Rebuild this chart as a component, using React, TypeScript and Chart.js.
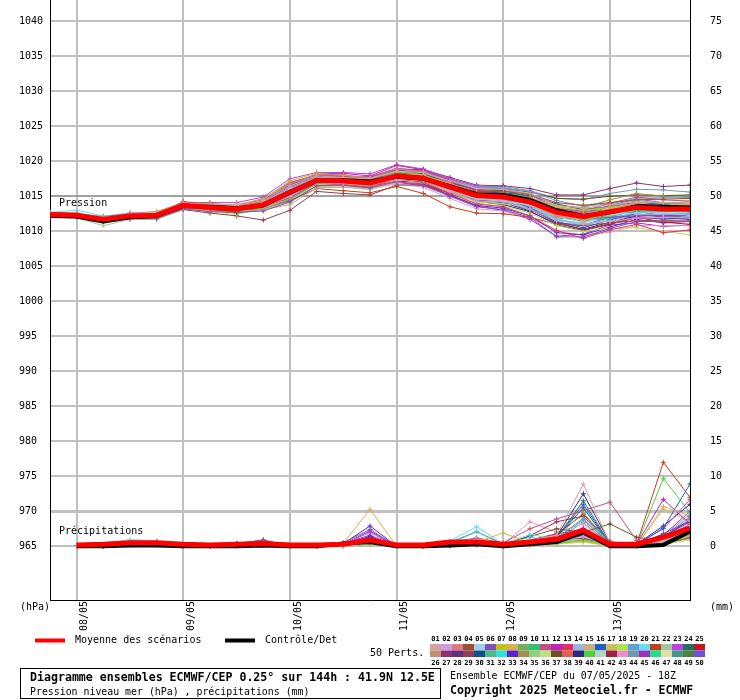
import React, { useEffect, useRef } from "react";
import { Chart, registerables } from "chart.js";

Chart.register(...registerables);

const FONT = '"DejaVu Sans Mono", "Liberation Mono", monospace';

// 6-hourly steps, 07/05 18Z -> 13/05 18Z
const steps = [
  "07/05 18Z", "08/05 00Z", "08/05 06Z", "08/05 12Z", "08/05 18Z",
  "09/05 00Z", "09/05 06Z", "09/05 12Z", "09/05 18Z",
  "10/05 00Z", "10/05 06Z", "10/05 12Z", "10/05 18Z",
  "11/05 00Z", "11/05 06Z", "11/05 12Z", "11/05 18Z",
  "12/05 00Z", "12/05 06Z", "12/05 12Z", "12/05 18Z",
  "13/05 00Z", "13/05 06Z", "13/05 12Z", "13/05 18Z",
];
const dayTickSteps = [1, 5, 9, 13, 17, 21];
const dayLabels = ["08/05", "09/05", "10/05", "11/05", "12/05", "13/05"];
const pressureTicks = [965, 970, 975, 980, 985, 990, 995, 1000, 1005, 1010, 1015, 1020, 1025, 1030, 1035, 1040];
const precipTicks = [0, 5, 10, 15, 20, 25, 30, 35, 40, 45, 50, 55, 60, 65, 70, 75];

const memberNames = [
  "01", "02", "03", "04", "05", "06", "07", "08", "09", "10", "11", "12", "13", "14", "15", "16", "17", "18", "19", "20", "21", "22", "23", "24", "25",
  "26", "27", "28", "29", "30", "31", "32", "33", "34", "35", "36", "37", "38", "39", "40", "41", "42", "43", "44", "45", "46", "47", "48", "49", "50",
];
const memberColors = [
  "#d4a0a8", "#c8a0e0", "#e07880", "#a05030", "#a0d0f0", "#8050b0", "#c0c020", "#d8b050", "#70b060", "#30c070",
  "#c05080", "#c020c0", "#e03060", "#a0b0e0", "#c8b080", "#2060c0", "#c8c060", "#b0e050", "#60a0d8", "#60e0f0",
  "#c04020", "#a0c8a0", "#c040e0", "#207060", "#c01820",
  "#c09070", "#903070", "#603080", "#904050", "#105090", "#50b890", "#30e0e0", "#6020d0", "#a09050", "#90d080",
  "#c0e080", "#705020", "#e06050", "#302880", "#50d040", "#b0d8c8", "#a02040", "#e890c8", "#7098b0", "#a030c0",
  "#20e090", "#e0e0a0", "#409890", "#508040", "#7050e0",
];

const pressureMean = [1012.4, 1012.3, 1011.7, 1012.2, 1012.3, 1013.7, 1013.4, 1013.2, 1013.8, 1015.6, 1017.3, 1017.2, 1016.9, 1017.9, 1017.6, 1016.3, 1015.1, 1014.9, 1014.2, 1012.7, 1012.1, 1012.8, 1013.4, 1013.2, 1013.2];
const pressureControl = [1012.2, 1012.1, 1011.4, 1012.0, 1012.2, 1013.6, 1013.5, 1013.3, 1013.7, 1015.5, 1017.2, 1017.3, 1017.1, 1017.8, 1017.5, 1016.4, 1015.3, 1015.2, 1014.5, 1013.0, 1012.2, 1012.7, 1013.6, 1013.5, 1013.4];
const precipMean = [null, 0.2, 0.3, 0.5, 0.5, 0.3, 0.2, 0.3, 0.4, 0.2, 0.2, 0.3, 0.9, 0.2, 0.2, 0.6, 0.6, 0.3, 0.6, 1.0, 2.3, 0.3, 0.3, 1.3, 2.6];
const precipControl = [null, 0, 0, 0.1, 0.1, 0, 0, 0, 0.1, 0, 0, 0.4, 0.6, 0, 0, 0.1, 0.3, 0, 0.3, 0.6, 2.0, 0, 0, 0.2, 2.1];

const pressureMembers = [
  [1012.5, 1012.5, 1012.0, 1012.3, 1012.6, 1013.9, 1013.8, 1013.7, 1014.4, 1016.5, 1017.9, 1017.7, 1017.5, 1018.6, 1018.4, 1017.2, 1016.1, 1016.0, 1015.4, 1013.7, 1013.3, 1013.8, 1014.2, 1014.1, 1014.2],
  [1012.2, 1012.2, 1011.7, 1012.0, 1012.4, 1013.4, 1013.2, 1013.3, 1013.4, 1015.0, 1017.0, 1016.8, 1016.7, 1017.4, 1017.3, 1015.7, 1014.3, 1014.2, 1013.2, 1011.5, 1011.1, 1011.4, 1011.9, 1012.0, 1011.9],
  [1012.6, 1012.4, 1011.5, 1012.5, 1012.3, 1014.1, 1013.7, 1013.4, 1014.3, 1016.8, 1018.1, 1018.1, 1017.6, 1018.9, 1018.5, 1016.9, 1015.5, 1015.1, 1013.9, 1012.1, 1011.9, 1013.1, 1014.0, 1013.6, 1013.7],
  [1012.3, 1012.3, 1011.8, 1012.1, 1012.1, 1013.7, 1013.1, 1012.8, 1013.9, 1015.4, 1017.5, 1017.2, 1016.8, 1018.2, 1017.7, 1016.7, 1015.7, 1015.7, 1015.3, 1014.1, 1013.7, 1014.1, 1014.5, 1014.6, 1014.7],
  [1012.4, 1012.5, 1011.9, 1012.2, 1012.7, 1013.8, 1013.6, 1013.5, 1014.1, 1016.1, 1017.6, 1017.4, 1017.3, 1018.1, 1017.6, 1016.0, 1014.6, 1014.3, 1013.8, 1012.5, 1012.1, 1012.4, 1012.6, 1012.6, 1012.3],
  [1012.1, 1012.1, 1011.4, 1011.8, 1011.8, 1013.2, 1012.8, 1012.7, 1012.9, 1014.2, 1016.5, 1016.6, 1016.2, 1017.1, 1016.6, 1015.0, 1013.5, 1013.1, 1012.0, 1009.2, 1009.2, 1010.4, 1011.4, 1011.4, 1011.5],
  [1012.6, 1012.6, 1011.8, 1012.4, 1012.8, 1014.0, 1013.9, 1013.8, 1014.6, 1017.2, 1018.3, 1018.0, 1017.6, 1018.5, 1018.1, 1016.6, 1015.6, 1015.3, 1014.8, 1013.5, 1013.0, 1013.4, 1013.8, 1013.4, 1013.5],
  [1012.4, 1012.2, 1011.9, 1012.2, 1012.2, 1013.9, 1013.4, 1013.0, 1014.0, 1016.0, 1017.3, 1017.3, 1017.2, 1018.1, 1018.0, 1016.8, 1015.3, 1015.2, 1014.2, 1012.3, 1011.5, 1012.6, 1013.6, 1013.7, 1013.9],
  [1012.2, 1012.0, 1011.5, 1012.1, 1012.0, 1013.3, 1013.1, 1012.6, 1013.2, 1014.6, 1016.8, 1016.9, 1016.7, 1017.8, 1017.3, 1016.2, 1015.3, 1015.4, 1014.9, 1013.1, 1012.4, 1013.5, 1014.4, 1014.0, 1013.8],
  [1012.5, 1012.3, 1011.6, 1012.4, 1012.5, 1013.7, 1013.5, 1013.4, 1013.8, 1015.8, 1017.1, 1017.1, 1016.6, 1017.7, 1017.2, 1016.1, 1014.8, 1014.8, 1014.4, 1012.6, 1011.7, 1012.1, 1012.9, 1012.9, 1013.0],
  [1012.7, 1012.5, 1012.1, 1012.5, 1012.5, 1014.2, 1014.0, 1013.6, 1014.7, 1017.0, 1018.0, 1017.8, 1017.8, 1019.0, 1018.6, 1017.1, 1016.0, 1015.5, 1014.5, 1013.2, 1012.9, 1014.0, 1014.9, 1014.5, 1014.3],
  [1012.4, 1012.4, 1011.7, 1012.0, 1012.3, 1014.0, 1013.8, 1013.8, 1014.5, 1016.6, 1018.2, 1018.3, 1017.9, 1019.4, 1018.8, 1017.3, 1015.8, 1015.4, 1014.4, 1012.7, 1011.8, 1012.0, 1012.2, 1012.2, 1012.4],
  [1012.3, 1012.1, 1011.6, 1012.2, 1012.2, 1013.5, 1013.3, 1013.2, 1013.5, 1014.8, 1016.9, 1016.7, 1016.3, 1017.5, 1017.0, 1015.4, 1013.9, 1013.5, 1012.2, 1010.1, 1009.0, 1010.2, 1011.0, 1009.8, 1010.2],
  [1012.6, 1012.4, 1012.0, 1012.3, 1012.7, 1013.8, 1013.6, 1013.3, 1014.2, 1016.3, 1017.7, 1017.5, 1017.0, 1017.9, 1017.8, 1016.4, 1015.0, 1014.6, 1013.6, 1011.8, 1011.0, 1011.5, 1012.4, 1012.3, 1012.1],
  [1012.1, 1012.1, 1011.3, 1012.0, 1011.9, 1013.4, 1012.9, 1012.9, 1013.1, 1013.8, 1016.2, 1016.3, 1016.1, 1017.0, 1016.9, 1015.8, 1014.5, 1014.5, 1014.0, 1012.8, 1012.5, 1013.0, 1013.3, 1013.3, 1013.5],
  [1012.5, 1012.3, 1011.8, 1012.3, 1012.3, 1013.9, 1013.7, 1013.4, 1014.3, 1016.4, 1017.8, 1017.9, 1017.7, 1018.8, 1018.2, 1016.6, 1015.2, 1014.7, 1013.4, 1011.4, 1010.5, 1011.6, 1012.5, 1012.1, 1011.8],
  [1012.4, 1012.4, 1011.6, 1012.4, 1012.4, 1013.6, 1013.2, 1013.1, 1013.8, 1015.9, 1017.4, 1017.0, 1016.5, 1017.3, 1017.1, 1015.6, 1014.2, 1013.9, 1013.5, 1012.3, 1012.0, 1013.2, 1014.1, 1014.1, 1014.0],
  [1012.2, 1012.0, 1011.2, 1011.9, 1011.7, 1013.3, 1012.8, 1012.4, 1013.3, 1014.7, 1016.7, 1016.8, 1016.4, 1017.6, 1017.1, 1015.5, 1014.0, 1013.6, 1012.6, 1010.8, 1010.0, 1010.4, 1010.5, 1010.0, 1009.5],
  [1012.5, 1012.5, 1011.7, 1012.1, 1012.5, 1014.0, 1013.5, 1013.5, 1014.0, 1015.7, 1017.6, 1017.6, 1017.1, 1018.4, 1018.3, 1017.2, 1016.3, 1016.2, 1015.7, 1014.4, 1013.6, 1013.9, 1014.7, 1014.8, 1015.0],
  [1012.7, 1013.0, 1012.2, 1012.6, 1012.6, 1013.7, 1013.2, 1013.2, 1013.6, 1015.1, 1017.1, 1017.2, 1017.1, 1018.0, 1017.5, 1016.3, 1014.9, 1014.4, 1013.3, 1012.1, 1011.3, 1012.3, 1013.1, 1012.6, 1012.7],
  [1012.3, 1012.3, 1011.5, 1012.1, 1012.3, 1013.6, 1013.2, 1012.8, 1013.3, 1014.4, 1016.1, 1015.8, 1015.5, 1016.4, 1015.4, 1013.5, 1012.6, 1012.5, 1012.0, 1011.0, 1010.8, 1011.2, 1011.5, 1011.6, 1011.4],
  [1012.1, 1011.9, 1010.8, 1011.7, 1011.7, 1013.2, 1013.0, 1012.6, 1013.2, 1014.5, 1016.6, 1016.6, 1016.5, 1017.3, 1017.2, 1016.1, 1015.1, 1015.0, 1014.6, 1013.4, 1013.0, 1013.4, 1013.7, 1013.7, 1013.4],
  [1012.6, 1012.6, 1011.9, 1012.6, 1012.8, 1014.1, 1014.1, 1014.1, 1014.9, 1017.5, 1018.4, 1018.4, 1018.2, 1019.5, 1018.9, 1017.5, 1016.5, 1016.1, 1015.2, 1013.4, 1012.6, 1013.7, 1014.6, 1014.1, 1013.9],
  [1012.4, 1012.2, 1011.7, 1012.3, 1012.2, 1013.8, 1013.4, 1013.4, 1014.1, 1016.2, 1017.5, 1017.5, 1017.4, 1018.3, 1018.2, 1017.0, 1015.9, 1015.8, 1014.9, 1013.0, 1012.1, 1012.6, 1013.4, 1013.4, 1013.2],
  [1012.5, 1012.2, 1011.8, 1012.0, 1012.4, 1013.5, 1013.4, 1013.0, 1013.6, 1015.3, 1016.8, 1016.6, 1016.4, 1017.2, 1016.8, 1015.4, 1014.4, 1014.3, 1013.3, 1011.3, 1010.2, 1011.1, 1012.0, 1011.3, 1011.0],
  [1012.2, 1012.2, 1011.8, 1012.2, 1012.1, 1013.7, 1013.6, 1013.2, 1013.9, 1015.6, 1017.7, 1017.7, 1017.2, 1018.1, 1017.9, 1016.8, 1015.4, 1014.9, 1013.9, 1012.9, 1012.7, 1013.7, 1013.9, 1013.5, 1013.8],
  [1012.4, 1012.4, 1011.9, 1012.3, 1012.6, 1013.9, 1013.8, 1013.5, 1014.3, 1016.3, 1017.8, 1017.8, 1017.7, 1018.9, 1018.8, 1017.7, 1016.6, 1016.5, 1016.1, 1015.2, 1015.2, 1016.1, 1016.9, 1016.4, 1016.6],
  [1012.5, 1012.5, 1011.8, 1012.2, 1012.4, 1013.7, 1013.3, 1013.3, 1013.7, 1015.2, 1017.3, 1017.4, 1017.0, 1018.2, 1017.7, 1016.1, 1014.6, 1014.1, 1012.9, 1010.9, 1010.1, 1011.0, 1011.9, 1011.9, 1011.7],
  [1012.1, 1012.0, 1011.5, 1011.8, 1011.8, 1013.1, 1012.6, 1012.2, 1011.6, 1013.0, 1015.7, 1015.4, 1015.2, 1016.6, 1016.6, 1015.5, 1014.5, 1014.4, 1013.9, 1012.6, 1012.3, 1012.8, 1013.0, 1013.0, 1012.9],
  [1012.4, 1012.3, 1011.6, 1012.3, 1012.5, 1013.8, 1013.4, 1013.1, 1014.0, 1016.1, 1017.6, 1017.4, 1016.9, 1017.7, 1017.6, 1016.5, 1015.5, 1015.5, 1015.1, 1013.9, 1013.1, 1013.5, 1014.2, 1013.8, 1013.6],
  [1012.5, 1012.4, 1011.7, 1012.4, 1012.2, 1013.5, 1013.5, 1012.9, 1013.5, 1014.9, 1016.7, 1016.9, 1017.0, 1017.7, 1017.4, 1015.9, 1014.8, 1014.7, 1013.7, 1011.9, 1011.6, 1011.9, 1012.3, 1012.4, 1012.5],
  [1012.3, 1012.5, 1012.0, 1012.3, 1012.3, 1013.6, 1013.1, 1013.1, 1013.4, 1014.7, 1016.9, 1016.7, 1016.6, 1017.5, 1017.4, 1016.3, 1015.2, 1014.6, 1013.6, 1011.7, 1010.8, 1011.8, 1012.7, 1012.7, 1012.3],
  [1012.2, 1012.2, 1011.5, 1012.2, 1012.0, 1013.6, 1013.2, 1012.8, 1013.5, 1015.0, 1017.0, 1017.0, 1016.5, 1017.3, 1016.7, 1015.2, 1013.7, 1013.3, 1012.2, 1009.8, 1009.5, 1010.6, 1011.7, 1011.2, 1011.4],
  [1012.6, 1012.3, 1011.8, 1012.1, 1012.5, 1014.0, 1013.9, 1013.5, 1014.4, 1016.9, 1018.1, 1017.8, 1017.4, 1018.7, 1018.5, 1017.4, 1016.2, 1015.8, 1015.4, 1013.7, 1013.4, 1014.5, 1015.4, 1015.0, 1014.8],
  [1012.3, 1012.1, 1011.3, 1012.0, 1012.2, 1013.4, 1013.3, 1013.0, 1013.3, 1014.6, 1016.4, 1016.5, 1016.3, 1017.4, 1017.3, 1016.2, 1014.9, 1015.0, 1014.5, 1012.7, 1011.9, 1013.0, 1013.8, 1013.3, 1013.4],
  [1012.4, 1012.4, 1011.7, 1012.5, 1012.4, 1013.9, 1013.5, 1013.6, 1014.1, 1016.2, 1017.7, 1017.7, 1017.5, 1018.3, 1018.2, 1016.7, 1015.7, 1015.6, 1014.7, 1013.6, 1013.2, 1013.6, 1014.0, 1013.9, 1014.1],
  [1012.5, 1012.3, 1011.9, 1012.2, 1012.4, 1013.9, 1013.7, 1013.7, 1014.2, 1016.2, 1017.9, 1017.6, 1017.3, 1018.5, 1018.1, 1017.0, 1016.0, 1016.1, 1015.6, 1014.7, 1014.6, 1015.0, 1015.2, 1015.1, 1015.2],
  [1012.2, 1012.1, 1011.7, 1012.1, 1012.1, 1013.3, 1013.1, 1013.0, 1013.7, 1015.4, 1017.2, 1016.9, 1016.7, 1017.9, 1017.8, 1016.6, 1015.2, 1014.9, 1014.0, 1012.2, 1011.8, 1012.9, 1013.7, 1013.2, 1012.9],
  [1012.4, 1012.2, 1011.6, 1012.3, 1012.3, 1013.7, 1013.3, 1013.2, 1013.9, 1015.8, 1017.2, 1017.2, 1016.8, 1017.6, 1017.1, 1015.7, 1014.3, 1013.8, 1012.8, 1011.1, 1010.3, 1011.3, 1012.2, 1012.3, 1012.2],
  [1012.6, 1012.4, 1011.7, 1012.4, 1012.6, 1014.1, 1013.6, 1013.5, 1014.5, 1016.7, 1018.0, 1018.0, 1017.5, 1018.4, 1017.9, 1016.5, 1015.1, 1014.7, 1014.1, 1013.0, 1012.6, 1013.0, 1013.2, 1012.8, 1013.1],
  [1012.3, 1012.3, 1011.8, 1012.0, 1012.0, 1013.5, 1013.0, 1012.7, 1013.0, 1014.1, 1016.3, 1016.3, 1015.9, 1017.1, 1016.9, 1015.8, 1014.7, 1014.3, 1013.3, 1011.6, 1011.2, 1012.2, 1013.0, 1012.5, 1012.6],
  [1012.4, 1012.5, 1011.8, 1012.2, 1012.5, 1013.8, 1013.7, 1013.4, 1014.0, 1015.9, 1017.5, 1017.3, 1017.2, 1018.0, 1017.9, 1016.9, 1015.9, 1015.4, 1014.4, 1012.4, 1011.4, 1012.4, 1012.8, 1012.3, 1012.0],
  [1012.1, 1012.1, 1011.4, 1011.9, 1011.9, 1013.4, 1012.9, 1012.6, 1013.1, 1014.3, 1016.5, 1016.5, 1016.0, 1016.8, 1016.3, 1014.7, 1013.2, 1012.9, 1011.9, 1010.1, 1009.4, 1009.9, 1010.8, 1010.8, 1010.8],
  [1012.5, 1012.3, 1011.6, 1012.3, 1012.3, 1013.9, 1013.5, 1013.3, 1014.2, 1016.2, 1017.8, 1017.9, 1017.5, 1018.7, 1018.6, 1017.5, 1016.4, 1016.4, 1015.8, 1014.7, 1014.5, 1015.4, 1016.0, 1015.9, 1015.6],
  [1012.2, 1012.0, 1011.5, 1012.1, 1012.1, 1013.5, 1013.0, 1012.9, 1013.3, 1014.8, 1016.8, 1016.6, 1016.1, 1017.0, 1016.5, 1015.1, 1013.6, 1013.0, 1011.7, 1009.3, 1009.6, 1010.9, 1011.2, 1010.7, 1010.9],
  [1012.5, 1012.4, 1011.9, 1012.3, 1012.3, 1013.6, 1013.5, 1013.4, 1013.7, 1015.3, 1017.3, 1017.3, 1017.1, 1017.9, 1017.5, 1016.0, 1014.5, 1014.0, 1013.1, 1011.9, 1011.7, 1012.5, 1012.8, 1012.8, 1012.9],
  [1012.3, 1012.2, 1011.7, 1012.2, 1012.4, 1014.0, 1013.6, 1013.2, 1014.1, 1016.5, 1017.8, 1017.5, 1017.1, 1018.0, 1018.0, 1016.9, 1015.6, 1015.6, 1015.2, 1013.9, 1013.8, 1014.2, 1014.5, 1014.5, 1014.4],
  [1012.4, 1012.3, 1011.4, 1012.1, 1012.1, 1013.6, 1013.4, 1013.0, 1013.8, 1015.2, 1017.1, 1017.1, 1016.9, 1018.1, 1017.6, 1016.1, 1015.1, 1015.1, 1014.2, 1012.4, 1011.5, 1011.8, 1012.1, 1011.7, 1011.9],
  [1012.6, 1012.4, 1012.0, 1012.4, 1012.4, 1014.2, 1013.7, 1013.6, 1014.3, 1016.6, 1017.9, 1017.7, 1017.3, 1018.2, 1017.7, 1016.3, 1015.3, 1015.2, 1014.8, 1013.6, 1012.8, 1013.1, 1013.9, 1014.0, 1014.2],
  [1012.3, 1012.3, 1011.6, 1012.2, 1012.2, 1013.7, 1013.2, 1013.1, 1013.6, 1015.1, 1017.2, 1017.0, 1016.6, 1017.7, 1017.2, 1015.7, 1014.6, 1014.2, 1013.1, 1011.2, 1010.9, 1012.0, 1012.5, 1012.0, 1012.2],
];

const precipMembers = [
  [null, 0, 0.1, 0.5, 0.4, 0, 0, 0.2, 0.4, 0, 0, 0.2, 0.5, 0, 0, 0.3, 0.6, 0.2, 0.9, 1.6, 8.9, 0.4, 0.2, 0.8, 2.0],
  [null, 0, 0.2, 0.6, 0.5, 0.1, 0, 0.1, 0.3, 0, 0, 0.1, 0.6, 0, 0, 0.2, 0.4, 0, 0.3, 0.7, 1.4, 0.2, 0.1, 0.6, 2.4],
  [null, 0, 0.1, 0.3, 0.6, 0, 0, 0.3, 0.5, 0, 0, 0.3, 0.8, 0, 0, 0.5, 0.8, 0.1, 0.6, 1.0, 2.1, 0.3, 0.2, 0.5, 1.9],
  [null, 0, 0, 0.4, 0.3, 0, 0, 0.2, 0.6, 0, 0, 0.2, 0.5, 0, 0, 0.1, 0.3, 0.2, 0.5, 1.2, 1.1, 0.5, 0.3, 0.4, 1.2],
  [null, 0, 0.3, 1.0, 0.8, 0.1, 0, 0.1, 0.2, 0, 0, 0, 0.4, 0, 0, 0.4, 1.0, 0.1, 0.8, 0.6, 1.8, 0.2, 0.1, 1.1, 3.0],
  [null, 0, 0.2, 0.5, 0.6, 0, 0, 0.4, 0.8, 0, 0, 0.5, 2.4, 0, 0, 0.2, 0.5, 0, 0.4, 0.9, 1.5, 0.3, 0.2, 1.3, 4.2],
  [null, 0, 0, 0.3, 0.2, 0, 0, 0.1, 0.3, 0, 0, 0.1, 0.4, 0, 0, 0.1, 0.2, 0.1, 0.2, 0.5, 0.8, 0.1, 0, 0.4, 1.6],
  [null, 0, 0.1, 0.4, 0.5, 0, 0, 0.2, 0.3, 0, 0, 0.4, 5.3, 0, 0, 0.3, 0.6, 1.9, 0.5, 0.7, 1.3, 0.2, 0.1, 5.7, 4.3],
  [null, 0, 0.1, 0.6, 0.4, 0, 0, 0.2, 0.4, 0, 0, 0.2, 0.7, 0, 0, 0.4, 0.7, 0.2, 0.6, 1.3, 4.8, 0.4, 0.2, 0.9, 2.6],
  [null, 0, 0, 0.2, 0.3, 0, 0, 0.1, 0.2, 0, 0, 0, 0.3, 0, 0, 0.2, 0.5, 0, 0.3, 0.4, 0.9, 0.1, 0, 0.7, 2.2],
  [null, 0, 0.1, 0.3, 0.5, 0, 0, 0.3, 0.9, 0, 0, 0.3, 0.9, 0, 0, 0.6, 1.2, 0.5, 2.5, 3.9, 5.1, 6.3, 0.8, 0.9, 1.8],
  [null, 0, 0.1, 0.4, 0.3, 0, 0, 0.2, 0.5, 0, 0, 0.2, 1.1, 0, 0, 0.3, 0.4, 0.1, 0.5, 1.0, 1.7, 0.4, 0.3, 6.7, 3.2],
  [null, 0, 0.2, 0.5, 0.4, 0, 0, 0.3, 0.7, 0, 0, 0.4, 0.9, 0, 0, 0.2, 0.9, 0.2, 0.7, 1.4, 2.4, 0.6, 0.2, 0.8, 2.4],
  [null, 0, 0.1, 0.3, 0.3, 0, 0, 0.1, 0.2, 0, 0, 0.1, 0.4, 0, 0, 0.3, 0.5, 0, 0.4, 0.7, 1.0, 0.2, 0.1, 0.5, 1.4],
  [null, 0, 0, 0.5, 0.4, 0.1, 0, 0.2, 0.3, 0, 0, 0.2, 0.6, 0, 0, 0.2, 0.3, 0.3, 0.6, 0.9, 1.9, 0.3, 0.2, 1.2, 2.8],
  [null, 0, 0.1, 0.4, 0.6, 0, 0, 0.2, 0.4, 0, 0, 0.3, 1.3, 0, 0, 0.4, 0.8, 0.1, 0.5, 1.3, 6.0, 0.3, 0.2, 2.6, 8.9],
  [null, 0, 0.2, 0.4, 0.5, 0, 0, 0.1, 0.3, 0, 0, 0.2, 0.7, 0, 0, 0.3, 0.6, 0.2, 0.7, 0.8, 1.6, 0.2, 0.1, 5.3, 3.6],
  [null, 0, 0, 0.2, 0.2, 0, 0, 0.1, 0.1, 0, 0, 0, 0.2, 0, 0, 0.1, 0.2, 0, 0.2, 0.3, 0.6, 0.1, 0, 0.3, 0.9],
  [null, 0, 0.1, 0.6, 0.5, 0, 0, 0.2, 0.3, 0, 0, 0.2, 0.8, 0, 0, 0.5, 0.9, 0.2, 0.9, 1.2, 4.0, 0.4, 0.2, 1.5, 4.6],
  [null, 0, 0.2, 0.7, 0.6, 0, 0, 0.3, 0.4, 0, 0, 0.2, 0.7, 0, 0, 0.8, 2.8, 0.3, 1.7, 1.0, 2.2, 0.3, 0.2, 0.8, 2.0],
  [null, 0, 0.1, 0.3, 0.4, 0, 0, 0.2, 0.4, 0, 0, 0.2, 0.7, 0, 0, 0.3, 0.5, 0.1, 0.6, 1.2, 2.5, 0.5, 0.3, 12.0, 7.0],
  [null, 0, 0, 0.3, 0.2, 0, 0, 0.1, 0.2, 0, 0, 0.1, 0.4, 0, 0, 0.2, 0.4, 0.1, 0.3, 0.6, 0.9, 0.2, 0.1, 0.6, 1.6],
  [null, 0, 0.1, 0.5, 0.4, 0, 0, 0.3, 0.6, 0, 0, 0.3, 2.0, 0, 0, 0.3, 0.7, 0.2, 0.6, 1.4, 2.6, 0.4, 0.3, 2.5, 6.7],
  [null, 0, 0.1, 0.4, 0.5, 0, 0, 0.2, 0.3, 0, 0, 0.2, 0.9, 0, 0, 0.4, 0.6, 0.1, 0.5, 1.2, 6.5, 0.3, 0.2, 1.1, 2.6],
  [null, 0, 0.2, 0.5, 0.6, 0.1, 0, 0.3, 0.5, 0, 0, 0.3, 1.0, 0, 0, 0.2, 0.8, 0.2, 0.8, 1.7, 4.6, 0.5, 0.3, 1.3, 3.1],
  [null, 0, 0.1, 0.3, 0.3, 0, 0, 0.1, 0.3, 0, 0, 0.1, 0.5, 0, 0, 0.1, 0.3, 0.1, 0.4, 0.5, 0.8, 0.2, 0.1, 0.4, 1.3],
  [null, 0, 0.2, 0.6, 0.7, 0, 0, 0.3, 0.6, 0, 0, 0.3, 0.9, 0, 0, 0.3, 0.6, 0.2, 0.7, 1.4, 2.0, 0.4, 0.2, 0.9, 2.3],
  [null, 0, 0.1, 0.4, 0.4, 0, 0, 0.2, 0.5, 0, 0, 0.2, 1.2, 0, 0, 0.2, 0.5, 0.1, 0.5, 1.0, 1.7, 0.3, 0.2, 1.8, 3.6],
  [null, 0, 0.1, 0.5, 0.5, 0, 0, 0.4, 0.8, 0, 0, 0.4, 1.0, 0, 0, 0.3, 0.9, 0.2, 0.9, 1.8, 2.3, 0.6, 0.4, 0.8, 2.2],
  [null, 0, 0.2, 0.5, 0.6, 0, 0, 0.3, 0.4, 0, 0, 0.2, 0.9, 0, 0, 0.4, 0.7, 0.1, 0.6, 1.3, 5.5, 0.3, 0.2, 1.4, 2.9],
  [null, 0, 0.1, 0.3, 0.4, 0, 0, 0.1, 0.3, 0, 0, 0.1, 0.6, 0, 0, 0.3, 0.5, 0.1, 0.4, 0.8, 1.2, 0.2, 0.1, 0.6, 1.9],
  [null, 0, 0.2, 0.8, 0.7, 0, 0, 0.2, 0.3, 0, 0, 0.1, 0.5, 0, 0, 0.6, 2.1, 0.2, 1.3, 0.7, 1.5, 0.2, 0.1, 0.5, 1.7],
  [null, 0, 0.2, 0.6, 0.5, 0, 0, 0.4, 0.7, 0, 0, 0.4, 2.9, 0, 0, 0.3, 0.6, 0.1, 0.5, 1.1, 2.1, 0.3, 0.2, 1.4, 3.5],
  [null, 0, 0.1, 0.3, 0.3, 0, 0, 0.2, 0.4, 0, 0, 0.2, 0.6, 0, 0, 0.2, 0.4, 0.2, 0.5, 0.9, 1.2, 0.3, 0.2, 0.7, 1.7],
  [null, 0, 0, 0.2, 0.3, 0, 0, 0.1, 0.2, 0, 0, 0.1, 0.3, 0, 0, 0.1, 0.3, 0, 0.2, 0.4, 0.7, 0.1, 0, 0.4, 1.1],
  [null, 0, 0.1, 0.3, 0.2, 0, 0, 0.1, 0.2, 0, 0, 0.1, 0.4, 0, 0, 0.2, 0.4, 0.1, 0.3, 0.5, 0.9, 0.2, 0.1, 0.6, 2.0],
  [null, 0, 0.1, 0.4, 0.4, 0, 0, 0.2, 0.4, 0, 0, 0.3, 0.8, 0, 0, 0.3, 0.6, 0.2, 1.4, 2.5, 2.0, 3.2, 1.3, 0.7, 1.6],
  [null, 0, 0.1, 0.4, 0.5, 0, 0, 0.2, 0.5, 0, 0, 0.2, 0.7, 0, 0, 0.4, 0.7, 0.1, 0.6, 1.2, 2.0, 0.4, 0.2, 0.9, 2.3],
  [null, 0, 0.2, 0.5, 0.5, 0, 0, 0.3, 0.6, 0, 0, 0.3, 1.4, 0, 0, 0.3, 0.8, 0.2, 0.7, 1.4, 7.5, 0.5, 0.3, 2.9, 6.0],
  [null, 0, 0.1, 0.4, 0.4, 0, 0, 0.2, 0.3, 0, 0, 0.2, 0.6, 0, 0, 0.3, 0.5, 0.1, 0.5, 0.9, 1.6, 0.3, 0.2, 9.7, 4.8],
  [null, 0, 0.1, 0.5, 0.4, 0, 0, 0.2, 0.3, 0, 0, 0.2, 0.5, 0, 0, 0.3, 0.6, 0.1, 0.5, 0.8, 1.1, 0.2, 0.1, 0.6, 1.4],
  [null, 0, 0.2, 0.6, 0.6, 0, 0, 0.4, 0.9, 0, 0, 0.4, 1.2, 0, 0, 0.5, 2.1, 0.3, 1.5, 3.5, 4.3, 0.6, 0.3, 1.0, 2.7],
  [null, 0, 0.1, 0.5, 0.4, 0, 0, 0.3, 0.6, 0, 0, 0.3, 0.8, 0, 0, 0.4, 1.1, 0.3, 3.5, 2.0, 3.2, 0.4, 0.2, 0.8, 2.0],
  [null, 0, 0.1, 0.4, 0.5, 0, 0, 0.2, 0.4, 0, 0, 0.2, 0.7, 0, 0, 0.3, 0.6, 0.1, 0.6, 1.0, 3.4, 0.3, 0.2, 1.1, 2.8],
  [null, 0, 0.2, 0.6, 0.5, 0, 0, 0.3, 0.7, 0, 0, 0.4, 1.6, 0, 0, 0.2, 0.5, 0.1, 0.4, 0.9, 1.9, 0.3, 0.2, 1.6, 5.0],
  [null, 0, 0.1, 0.3, 0.3, 0, 0, 0.1, 0.2, 0, 0, 0.1, 0.4, 0, 0, 0.2, 0.4, 0.1, 0.3, 0.6, 1.0, 0.2, 0.1, 0.5, 1.3],
  [null, 0, 0, 0.2, 0.2, 0, 0, 0.1, 0.2, 0, 0, 0.1, 0.3, 0, 0, 0.1, 0.2, 0.1, 0.2, 0.4, 0.6, 0.1, 0, 0.7, 1.6],
  [null, 0, 0.1, 0.4, 0.4, 0, 0, 0.2, 0.4, 0, 0, 0.2, 0.8, 0, 0, 0.3, 0.7, 0.2, 0.6, 1.1, 3.8, 0.3, 0.2, 1.0, 3.0],
  [null, 0, 0.1, 0.3, 0.4, 0, 0, 0.2, 0.3, 0, 0, 0.2, 0.6, 0, 0, 0.2, 0.5, 0.1, 0.4, 0.7, 1.3, 0.2, 0.1, 0.8, 1.9],
  [null, 0, 0.2, 0.5, 0.6, 0, 0, 0.3, 0.6, 0, 0, 0.3, 2.2, 0, 0, 0.3, 0.6, 0.2, 0.6, 1.2, 2.3, 0.4, 0.2, 1.3, 3.8],
];

// axis ranges (pressure axis, precipitation axis shares the same scale with 0 mm at 965 hPa)
const P_MIN = 957.33;
const P_MAX = 1043.04;
const PRECIP_ZERO = 965;

const overlayPlugin = {
  id: "overlayTexts",
  afterDraw(chart: any) {
    const ctx = chart.ctx as CanvasRenderingContext2D;
    ctx.save();
    ctx.fillStyle = "#000";
    ctx.textBaseline = "alphabetic";
    ctx.textAlign = "left";
    ctx.font = `10px ${FONT}`;
    ctx.fillText("Pression", 59, 206);
    ctx.fillText("Précipitations", 59, 534);
    ctx.fillText("(hPa)", 20, 610);
    ctx.fillText("(mm)", 710, 610);

    ctx.fillStyle = "#ff0000";
    ctx.fillRect(35, 638.5, 30, 4);
    ctx.fillStyle = "#000000";
    ctx.fillRect(225, 638.5, 30, 4);
    ctx.fillText("Moyenne des scénarios", 75, 643);
    ctx.fillText("Contrôle/Det", 265, 643);
    ctx.fillText("50 Perts.", 370, 656);

    memberColors.forEach((c, k) => {
      const col = k % 25;
      const row = Math.floor(k / 25);
      ctx.fillStyle = c;
      ctx.fillRect(430 + col * 11, 644 + row * 6.5, 11, 6.5);
    });
    ctx.fillStyle = "#000";
    ctx.font = `bold 7px ${FONT}`;
    ctx.textAlign = "center";
    memberNames.forEach((n, k) => {
      const col = k % 25;
      const row = Math.floor(k / 25);
      ctx.fillText(n, 435.5 + col * 11, row === 0 ? 641 : 665);
    });

    ctx.textAlign = "left";
    ctx.strokeStyle = "#000";
    ctx.lineWidth = 1;
    ctx.strokeRect(20.5, 668.5, 420, 30);
    ctx.font = `bold 11.6px ${FONT}`;
    ctx.fillText("Diagramme ensembles ECMWF/CEP 0.25° sur 144h : 41.9N 12.5E", 30, 681);
    ctx.font = `9.9px ${FONT}`;
    ctx.fillText("Pression niveau mer (hPa) , précipitations (mm)", 30, 695);
    ctx.fillText("Ensemble ECMWF/CEP du 07/05/2025 - 18Z", 450, 679);
    ctx.font = `bold 11.55px ${FONT}`;
    ctx.fillText("Copyright 2025 Meteociel.fr - ECMWF", 450, 694);
    ctx.restore();
  },
};

const toPoints = (arr: (number | null)[]) => arr.map((v, i) => ({ x: i, y: v }));

export default function App() {
  const canvasRef = useRef<HTMLCanvasElement | null>(null);

  useEffect(() => {
    document.body.style.margin = "0";
    const canvas = canvasRef.current;
    if (!canvas) return;

    const base = { tension: 0, fill: false, pointHoverRadius: 0 };
    const datasets: any[] = [
      { ...base, label: "Moyenne P", data: toPoints(pressureMean), yAxisID: "y", borderColor: "#ff0000", borderWidth: 5, pointRadius: 0, borderJoinStyle: "round" },
      { ...base, label: "Moyenne RR", data: toPoints(precipMean), yAxisID: "y2", borderColor: "#ff0000", borderWidth: 5, pointRadius: 0, borderJoinStyle: "round" },
      { ...base, label: "Contrôle P", data: toPoints(pressureControl), yAxisID: "y", borderColor: "#000000", borderWidth: 4, pointRadius: 0, borderJoinStyle: "round" },
      { ...base, label: "Contrôle RR", data: toPoints(precipControl), yAxisID: "y2", borderColor: "#000000", borderWidth: 4, pointRadius: 0, borderJoinStyle: "round" },
    ];
    pressureMembers.forEach((arr, k) => {
      datasets.push({
        ...base, label: "P" + memberNames[k], data: toPoints(arr), yAxisID: "y",
        borderColor: memberColors[k], borderWidth: 1, pointStyle: "cross", pointRadius: 2.5,
        pointBorderColor: memberColors[k], pointBorderWidth: 1,
      });
    });
    precipMembers.forEach((arr, k) => {
      datasets.push({
        ...base, label: "RR" + memberNames[k], data: toPoints(arr), yAxisID: "y2",
        borderColor: memberColors[k], borderWidth: 1, pointStyle: "cross", pointRadius: 2.5,
        pointBorderColor: memberColors[k], pointBorderWidth: 1,
      });
    });

    const chart = new Chart(canvas, {
      type: "line",
      data: { labels: steps, datasets },
      options: {
        responsive: false,
        animation: false,
        events: [],
        layout: { padding: { left: 19, right: 0, top: 0, bottom: 0 }, autoPadding: false },
        plugins: { legend: { display: false }, tooltip: { enabled: false }, title: { display: false } },
        scales: {
          x: {
            type: "linear", min: 0, max: steps.length - 1, bounds: "data",
            afterBuildTicks: (s: any) => { s.ticks = dayTickSteps.map((v) => ({ value: v })); },
            afterFit: (s: any) => { s.height = 100; s.paddingLeft = 0; s.paddingRight = 0; },
            grid: { color: "#c0c0c0", lineWidth: 2, drawTicks: false },
            border: { display: true, color: "#000", width: 1 },
            ticks: {
              autoSkip: false, minRotation: 90, maxRotation: 90, padding: 1, labelOffset: 8, color: "#000",
              font: { family: FONT, size: 10 },
              callback: (_v: any, i: number) => dayLabels[i],
            },
          },
          y: {
            type: "linear", position: "left", min: P_MIN, max: P_MAX, bounds: "data",
            afterBuildTicks: (s: any) => { s.ticks = pressureTicks.map((v) => ({ value: v })); },
            afterFit: (s: any) => { s.width = 31; s.paddingTop = 0; s.paddingBottom = 0; },
            grid: {
              drawTicks: false,
              color: (c: any) => (c.tick && c.tick.value === 1015 ? "#a0a0a0" : "#c0c0c0"),
              lineWidth: (c: any) => (c.tick && c.tick.value === 970 ? 3 : 2),
            },
            border: { display: true, color: "#000", width: 1 },
            ticks: {
              autoSkip: false, crossAlign: "far", color: "#000",
              font: { family: FONT, size: 10 },
              callback: (v: any) => String(v),
            },
          },
          y2: {
            type: "linear", position: "right", min: P_MIN - PRECIP_ZERO, max: P_MAX - PRECIP_ZERO, bounds: "data",
            afterBuildTicks: (s: any) => { s.ticks = precipTicks.map((v) => ({ value: v })); },
            afterFit: (s: any) => { s.width = 50; s.paddingTop = 0; s.paddingBottom = 0; },
            grid: { display: false, drawTicks: false },
            border: { display: true, color: "#000", width: 1 },
            ticks: {
              autoSkip: false, padding: 20, color: "#000",
              font: { family: FONT, size: 10 },
              callback: (v: any) => String(v),
            },
          },
        },
      } as any,
      plugins: [overlayPlugin],
    });

    return () => chart.destroy();
  }, []);

  return (
    <div style={{ width: 740, height: 700, background: "#fff" }}>
      <canvas ref={canvasRef} width={740} height={700} style={{ display: "block" }} />
    </div>
  );
}
